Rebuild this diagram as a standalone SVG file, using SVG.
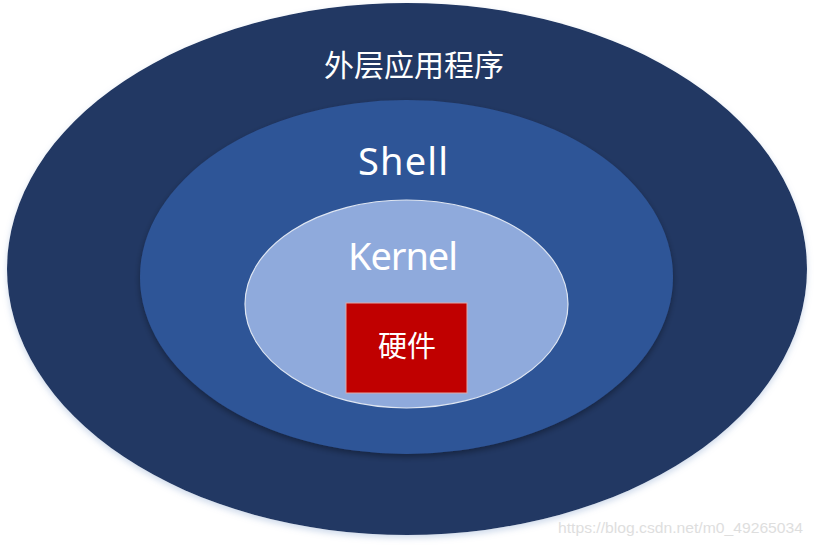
<svg xmlns="http://www.w3.org/2000/svg" width="814" height="546" viewBox="0 0 814 546">
  <style>
    .lbl { font-family: "Noto Sans CJK SC", "Noto Sans", sans-serif; fill: #ffffff; text-anchor: middle; }
    .lat { font-family: "Noto Sans", "Noto Sans CJK SC", sans-serif; fill: #ffffff; }
    .wm { font-family: "Liberation Sans", Arial, sans-serif; fill: #dedede; font-size: 15px; }
  </style>
  <defs>
    <filter id="sh" x="-10%" y="-10%" width="120%" height="125%">
      <feGaussianBlur in="SourceAlpha" stdDeviation="3"/>
      <feOffset dx="0" dy="3" result="b"/>
      <feFlood flood-color="#000000" flood-opacity="0.35"/>
      <feComposite in2="b" operator="in"/>
      <feMerge><feMergeNode/><feMergeNode in="SourceGraphic"/></feMerge>
    </filter>
    <filter id="shOuter" x="-10%" y="-10%" width="120%" height="125%">
      <feGaussianBlur in="SourceAlpha" stdDeviation="3"/>
      <feOffset dx="0" dy="3" result="b"/>
      <feFlood flood-color="#9fb6d8" flood-opacity="0.5"/>
      <feComposite in2="b" operator="in"/>
      <feMerge><feMergeNode/><feMergeNode in="SourceGraphic"/></feMerge>
    </filter>
  </defs>
  <rect width="814" height="546" fill="#ffffff"/>
  <g id="outer">
    <ellipse cx="407" cy="269" rx="400" ry="266" fill="#203864" filter="url(#shOuter)"/>
    <text class="lbl" x="414" y="76" font-size="30">外层应用程序</text>
  </g>
  <g id="shell">
    <ellipse cx="406.5" cy="277" rx="266.5" ry="177" fill="#2f5597" filter="url(#sh)"/>
    <text class="lat" x="358" y="175" font-size="38" textLength="90" lengthAdjust="spacing">Shell</text>
  </g>
  <g id="kernel">
    <ellipse cx="406.5" cy="304" rx="161.5" ry="104" fill="#8faadc" stroke="#dfe6f2" stroke-width="1.2"/>
    <text class="lat" x="348" y="270" font-size="38" textLength="110" lengthAdjust="spacing">Kernel</text>
  </g>
  <g id="hardware">
    <rect x="346" y="303" width="121" height="90" fill="#c00000" stroke="#e0a8a8" stroke-width="1"/>
    <text class="lbl" x="407" y="357" font-size="29">硬件</text>
  </g>
  <g id="connectors"></g>
  <text class="wm" x="558" y="533" textLength="245" lengthAdjust="spacingAndGlyphs">https://blog.csdn.net/m0_49265034</text>
</svg>
